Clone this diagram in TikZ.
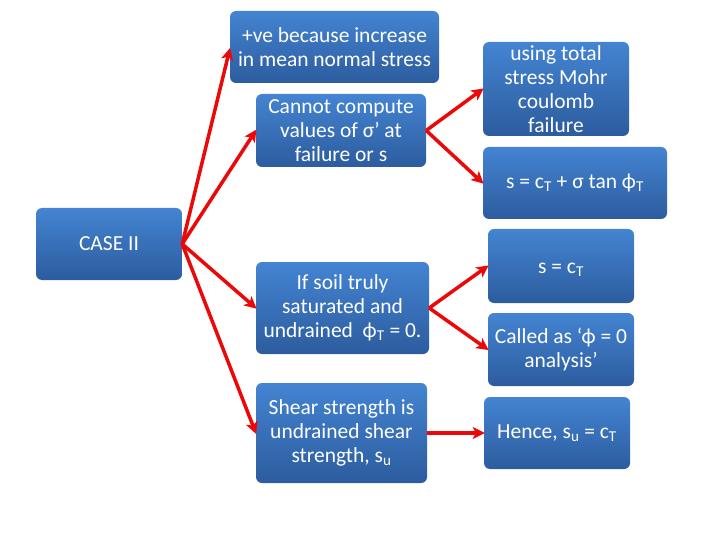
\documentclass[tikz,border=0pt]{standalone}
\usepackage{fontspec}
\setmainfont{Carlito}
\usetikzlibrary{arrows.meta}
\definecolor{boxtop}{RGB}{68,132,210}
\definecolor{boxbot}{RGB}{44,92,158}
\definecolor{arrred}{RGB}{236,8,8}
\tikzset{
  bx/.style={rounded corners=6pt, top color=boxtop, bottom color=boxbot, draw=none},
  bxtext/.style={text=white, font=\fontsize{21.5}{24}\selectfont, align=center, inner sep=0pt},
  arr/.style={draw=arrred, line width=3.5pt, -{Stealth[length=12pt,width=12pt,inset=3pt]}, shorten >=-1pt},
}
\newcommand{\mkbox}[7][]{% opts, name, x1, y1, x2, y2, text
  \path[bx] (#3,#4) rectangle (#5,#6);
  \node[bxtext, minimum width={(#5-#3)*1pt}, minimum height={(#6-#4)*1pt}] (#2) at ({(#3+#5)/2},{(#4+#6)/2}) {};
  \node[bxtext, #1] at (#2.center) {#7};
}
\begin{document}
\begin{tikzpicture}[x=1pt,y=-1pt]
\useasboundingbox (0,0) rectangle (720,540);
\mkbox{case}{36}{208}{182}{280}{CASE II}
\mkbox{a}{230}{11}{439}{83}{+ve because increase\\in mean normal stress}
\mkbox{b}{256}{94}{426}{167}{Cannot compute\\values of σ’ at\\failure or s}
\mkbox{c}{256}{262}{429}{354}{If soil truly\\saturated and\\undrained \ ϕ\textsubscript{T} = 0.}
\mkbox{d}{256}{383}{427}{483}{Shear strength is\\undrained shear\\strength, s\textsubscript{u}}
\mkbox{e}{483}{42}{629}{136}{using total\\stress Mohr\\coulomb\\failure}
\mkbox{f}{483}{147}{667}{219}{s = c\textsubscript{T} + σ tan ϕ\textsubscript{T}}
\mkbox[yshift=-4pt]{g}{488}{229}{634}{303}{s = c\textsubscript{T}}
\mkbox{h}{488}{313}{634}{386}{Called as ‘ϕ = 0\\analysis’}
\mkbox{i}{484}{397}{630}{469}{Hence, s\textsubscript{u} = c\textsubscript{T}}
\draw[arr] (case.east) -- ([yshift=-2pt]a.west);
\draw[arr] (case.east) -- (b.west);
\draw[arr] (case.east) -- (c.west);
\draw[arr] (case.east) -- (d.west);
\draw[arr] (b.east) -- (e.west);
\draw[arr] (b.east) -- (f.west);
\draw[arr] (c.east) -- (g.west);
\draw[arr] (c.east) -- (h.west);
\draw[arr] (d.east) -- (i.west);
\end{tikzpicture}
\end{document}
